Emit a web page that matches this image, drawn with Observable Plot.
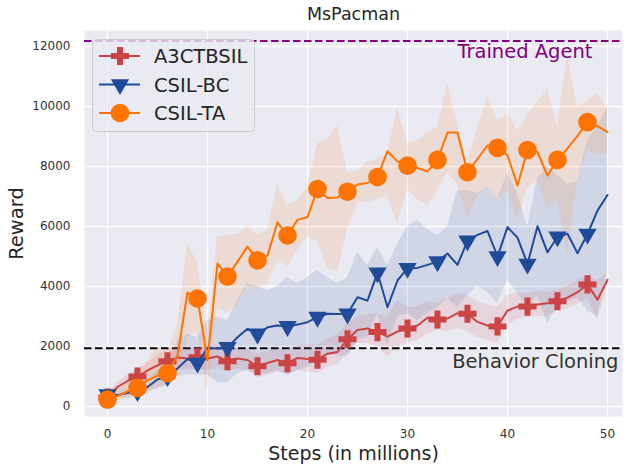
<!DOCTYPE html>
<html><head><meta charset="utf-8">
<script src="https://cdn.jsdelivr.net/npm/d3@7"></script>
<script src="https://cdn.jsdelivr.net/npm/@observablehq/plot@0.6"></script>
<style>body{margin:0;background:#fff;}</style>
</head><body><div id="chart"></div>
<script>
const steps = [0,1,2,3,4,5,6,7,8,9,10,11,12,13,14,15,16,17,18,19,20,21,22,23,24,25,26,27,28,29,30,31,32,33,34,35,36,37,38,39,40,41,42,43,44,45,46,47,48,49,50];

// A3CTBSIL (red)
const a3Mean = [300,650,850,1000,1200,1370,1510,1630,1600,1640,1600,1670,1510,1600,1550,1340,1450,1550,1440,1620,1580,1560,1760,1820,2240,2550,2600,2480,2330,2500,2600,2700,2960,2900,2930,3110,3090,2820,2700,2670,3200,3330,3330,3400,3440,3510,3630,3810,4070,3560,4220];
const a3Hi = [400,800,1050,1250,1450,1700,1900,2000,2000,2000,2000,2050,1900,1950,1900,1750,1850,1950,1850,2050,2050,2050,2250,2400,2770,3000,3050,3100,3000,3530,3300,3300,3500,3450,3600,3770,3700,3500,3400,3310,3700,3800,3770,3850,3800,3900,4000,4200,4350,4200,4430];
const a3Lo = [200,500,650,750,950,1050,1150,1250,1200,1250,1200,1300,1150,1250,1200,950,1050,1150,1050,1200,1150,1100,1300,1400,1770,2100,2100,1990,1640,2000,2100,2200,2400,2530,2500,2600,2500,2300,2200,2100,2700,2900,2980,3000,3000,3200,3250,3400,3600,2870,3980];

// CSIL-BC (blue)
const bcMean = [400,380,450,500,650,900,1000,1270,1580,1450,1950,1930,1970,2310,2590,2420,2640,2700,2670,2730,2810,2980,3090,3080,3090,3640,3530,4460,3310,4200,4610,4620,4720,4830,5100,4720,5520,5720,5850,5000,5980,5630,4750,6010,5140,5660,5760,5110,5750,6530,7050];
const bcHi = [500,480,600,700,900,1200,1400,2200,2400,2300,2870,2980,2870,3530,4100,4000,3870,4000,4310,4100,4300,4530,4300,4100,4300,5150,4700,5300,4700,5400,6000,6200,5900,5700,6000,7200,7200,7100,7300,6900,7770,7100,5980,7600,7980,7700,7400,7500,8870,9300,9980];
const bcLo = [300,280,300,350,450,600,700,1000,1050,1050,1050,800,780,1100,1200,1050,1100,1200,1050,1200,1310,1500,1700,1700,1650,2200,2300,3100,2000,3000,3100,2870,3100,3300,3600,3300,3700,4000,3800,3430,4200,3800,3300,3700,2770,3300,3500,3600,3200,2980,4530];

// CSIL-TA (orange)
const taMean = [230,350,500,620,870,1030,1110,1700,3800,3600,1550,4770,4330,4830,5330,4870,5030,6140,5700,6220,6310,7250,6950,6970,7160,7400,7450,7650,8510,8170,8030,7950,7840,8220,9130,9130,7810,8250,8700,8620,8370,7370,8550,8480,7700,8220,8600,9020,9480,9350,9150];
const taHi = [350,550,800,1000,1500,2000,1800,2700,5430,4800,2400,5650,5700,5750,6000,5700,5900,7370,6700,6870,7300,8760,8900,9370,7800,7850,8130,8250,8400,9980,8770,8870,9130,9300,10770,9430,8100,9300,10300,9500,9770,9200,9700,10130,10570,9330,11700,9970,10200,10430,9950];
const taLo = [120,200,250,350,500,600,700,1000,2300,2500,500,3300,3100,3400,4000,3900,4100,4870,4670,5200,5670,5500,4600,4500,5900,6800,6800,6900,7000,6100,7200,6900,6700,7200,7800,7400,6270,7000,7300,6900,7200,6200,7300,7500,6600,6900,5000,7600,8530,8400,8450];

const seriesNames = ["A3CTBSIL", "CSIL-BC", "CSIL-TA"];
const seriesColors = ["#cc4444", "#1f4b99", "#ff7300"];
const seriesSymbols = ["cross", "triangle", "circle"];
const xTicks = [0, 10, 20, 30, 40, 50];
const yTicks = [0, 2000, 4000, 6000, 8000, 10000, 12000];
const refLines = [
  {label: "Trained Agent", value: 12180, color: "#800080"},
  {label: "Behavior Cloning", value: 1940, color: "#000000"}
];
const titleText = "MsPacman";
const xLabel = "Steps (in millions)";
const yLabel = "Reward";

const means = [a3Mean, bcMean, taMean], his = [a3Hi, bcHi, taHi], los = [a3Lo, bcLo, taLo];
const series = seriesNames.map((name, k) => ({
  name, color: seriesColors[k], symbol: seriesSymbols[k],
  rows: steps.map((s, i) => ({step: s, mean: means[k][i], lo: los[k][i], hi: his[k][i]}))
}));

const font = "DejaVu Sans, sans-serif";
const textColor = "#262626";

const marks = [
  Plot.frame({fill: "#eaeaf2", stroke: null}),
  Plot.gridX(xTicks, {stroke: "white", strokeOpacity: 1, strokeWidth: 1.3}),
  Plot.gridY(yTicks, {stroke: "white", strokeOpacity: 1, strokeWidth: 1.3}),
  Plot.axisX(xTicks, {tickSize: 0, tickPadding: 13, fontSize: 12, fill: "#333", label: null, tickFormat: d => String(d)}),
  Plot.axisY(yTicks, {tickSize: 0, tickPadding: 14, fontSize: 12, fill: "#333", label: null, tickFormat: d => String(d)}),
  Plot.ruleY(refLines, {y: "value", stroke: "color", strokeWidth: 2, strokeDasharray: "7.5,3.5"})
];
const symSize = {cross: 7.6, triangle: 6.8, circle: 9.3};
for (const s of series) {
  marks.push(Plot.areaY(s.rows, {x: "step", y1: "lo", y2: "hi", fill: s.color, fillOpacity: 0.12, curve: "linear"}));
}
for (const s of series) {
  marks.push(Plot.line(s.rows, {x: "step", y: "mean", stroke: s.color, strokeWidth: 2}));
  marks.push(Plot.dot(s.rows.filter(d => d.step % 3 === 0), {
    x: "step", y: "mean", symbol: s.symbol, r: symSize[s.symbol], fill: s.color, stroke: null,
    rotate: s.symbol === "triangle" ? 180 : 0
  }));
}
marks.push(Plot.text([refLines[0]], {y: "value", text: "label", frameAnchor: "right", dx: -30, dy: 11, textAnchor: "end", lineAnchor: "middle", fill: refLines[0].color, fontSize: 19.5}));
marks.push(Plot.text([refLines[1]], {y: "value", text: "label", frameAnchor: "right", dx: -4, dy: 13, textAnchor: "end", lineAnchor: "middle", fill: "#333", fontSize: 19.5}));
marks.push(Plot.text([titleText], {text: d => d, frameAnchor: "top", dy: -16, lineAnchor: "middle", textAnchor: "middle", fontSize: 17.5, fill: textColor}));
marks.push(Plot.text([xLabel], {text: d => d, frameAnchor: "bottom", dy: 37, lineAnchor: "middle", textAnchor: "middle", fontSize: 19, fill: textColor}));
marks.push(Plot.text([yLabel], {text: d => d, frameAnchor: "left", dx: -68, rotate: -90, lineAnchor: "middle", textAnchor: "middle", fontSize: 19.5, fill: textColor}));

const chart = Plot.plot({
  width: 624, height: 465,
  marginLeft: 84, marginRight: 2, marginTop: 30, marginBottom: 49,
  style: {fontFamily: font, background: "white"},
  x: {domain: [-2.3, 51.5]},
  y: {domain: [-333, 12533]},
  marks
});
document.getElementById("chart").appendChild(chart);

// Legend
const svg = d3.select(chart);
const lg = svg.append("g").attr("font-family", font).attr("text-anchor", "start");
lg.append("rect").attr("x", 92.5).attr("y", 39.5).attr("width", 162).attr("height", 92).attr("rx", 4)
  .attr("fill", "#eaeaf2").attr("fill-opacity", 0.8).attr("stroke", "#cccccc").attr("stroke-width", 1);
series.forEach((s, k) => {
  const cy = 56 + k * 28.5;
  lg.append("line").attr("x1", 99).attr("x2", 140).attr("y1", cy).attr("y2", cy).attr("stroke", s.color).attr("stroke-width", 2);
  const sym = {cross: d3.symbolCross, triangle: d3.symbolTriangle, circle: d3.symbolCircle}[s.symbol];
  const r = symSize[s.symbol];
  lg.append("path").attr("d", d3.symbol(sym, Math.PI * r * r)())
    .attr("transform", `translate(120,${cy})` + (s.symbol === "triangle" ? " rotate(180)" : ""))
    .attr("fill", s.color);
  lg.append("text").attr("x", 154).attr("y", cy).attr("dy", "0.36em").attr("font-size", 19.5).attr("fill", textColor).attr("text-anchor", "start").text(s.name);
});
</script>
</body></html>
